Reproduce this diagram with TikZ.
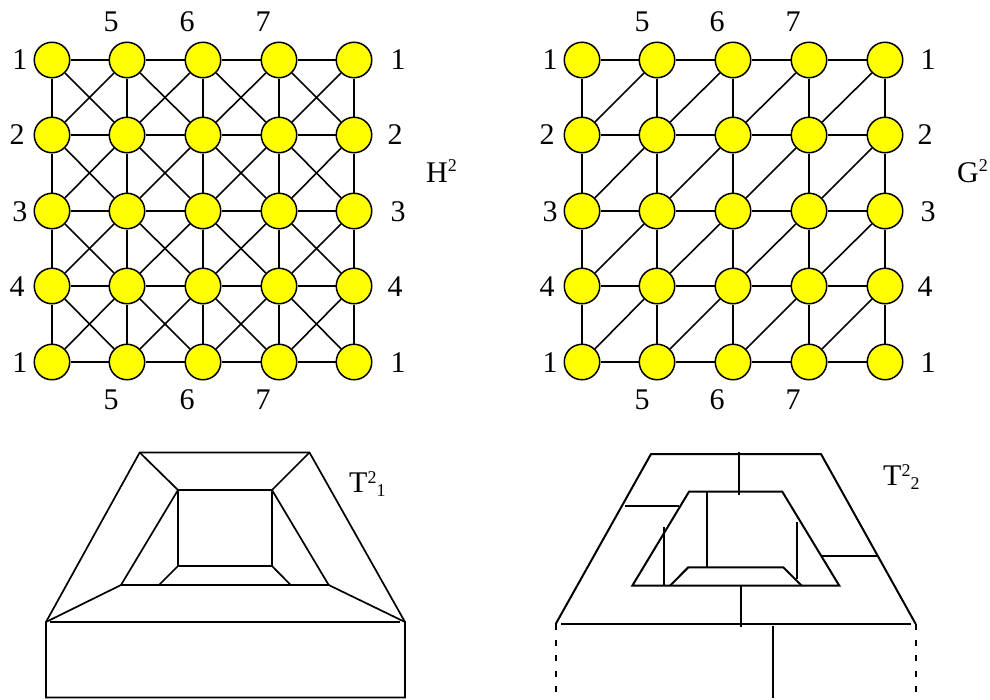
\documentclass[tikz,border=0pt]{standalone}
\usepackage{fontspec}
\setmainfont{Liberation Serif}
\usepackage{xcolor}
\usetikzlibrary{arrows.meta}
\definecolor{vertexyellow}{RGB}{255,255,0}
\newcommand{\smalltext}[1]{{\fontsize{18}{20}\selectfont #1}}
\tikzset{
    vertex/.style={circle, draw=black, line width=1.5pt, fill=vertexyellow, minimum size=35.5pt, inner sep=0pt},
    edge/.style={draw=black, line width=1.6pt},
    wire/.style={draw=black, line width=1.7pt},
    thickwire/.style={draw=black, line width=2pt},
    number/.style={anchor=base, inner sep=0pt, font=\fontsize{30}{32}\selectfont},
    title/.style={anchor=base west, inner sep=0pt, font=\fontsize{30}{32}\selectfont},
}
\begin{document}
\begin{tikzpicture}[x=1pt,y=-1pt]
        \useasboundingbox (0,0) rectangle (990,699);
        % the two grids
        \foreach \c/\x in {1/52,2/127,3/203,4/279,5/354} {
            \foreach \r/\y in {a/60,b/135,c/211,d/286,e/362} {
                \node [vertex] (h\r\c) at (\x,\y) {};
            }
        }
        \foreach \c/\x in {1/582,2/657,3/733,4/809,5/885} {
            \foreach \r/\y in {a/60,b/135,c/211,d/286,e/362} {
                \node [vertex] (g\r\c) at (\x,\y) {};
            }
        }
        \foreach \n in {h,g} {
            \foreach \r in {a,b,c,d,e} {
                \foreach \c/\d in {1/2,2/3,3/4,4/5} {
                    \draw [edge] (\n\r\c) -- (\n\r\d);
                }
            }
            \foreach \c in {1,2,3,4,5} {
                \foreach \r/\s in {a/b,b/c,c/d,d/e} {
                    \draw [edge] (\n\r\c) -- (\n\s\c);
                }
            }
            \foreach \r/\s in {a/b,b/c,c/d,d/e} {
                \foreach \c/\d in {1/2,2/3,3/4,4/5} {
                    \draw [edge] (\n\s\c) -- (\n\r\d);
                }
            }
        }
        % second diagonals only in the left grid
        \foreach \r/\s in {a/b,b/c,c/d,d/e} {
            \foreach \c/\d in {1/2,2/3,3/4,4/5} {
                \draw [edge] (h\r\c) -- (h\s\d);
            }
        }
        % numbers round the grids
        \foreach \x/\y/\t [count=\i] in {20/69/1,17/144/2,20/221/3,17/296/4,20/372/1,
                398/69/1,395/144/2,398/221/3,395/296/4,398/372/1,
                111/31/5,187/31/6,263/31/7,111/409/5,187/409/6,263/409/7} {
            \node [number] (hn\i) at (\x,\y) {\t};
        }
        \foreach \x/\y/\t [count=\i] in {550/69/1,547/144/2,550/221/3,547/296/4,550/372/1,
                928/69/1,925/144/2,928/221/3,925/296/4,928/372/1,
                642/31/5,717/31/6,793/31/7,642/409/5,717/409/6,793/409/7} {
            \node [number] (gn\i) at (\x,\y) {\t};
        }
        \node [title] (hname) at (426,182) {H\raisebox{11pt}{\smalltext{2}}};
        \node [title] (gname) at (957,182) {G\raisebox{11pt}{\smalltext{2}}};
        \node [title] (tone) at (349,492) {T\raisebox{9pt}{\smalltext{2}}\raisebox{-4pt}{\smalltext{1}}};
        \node [title] (ttwo) at (883,485) {T\raisebox{9pt}{\smalltext{2}}\raisebox{-4pt}{\smalltext{2}}};
        % lower left
        \coordinate (ol) at (139.7,452.5);
        \coordinate (or) at (309.5,452.5);
        \coordinate (bl) at (46,622);
        \coordinate (br) at (405,622);
        \coordinate (il) at (178,490);
        \coordinate (ir) at (272,490);
        \coordinate (jl) at (178,566);
        \coordinate (jr) at (272,566);
        \coordinate (kl) at (121,585);
        \coordinate (kr) at (328.7,585);
        \coordinate (ml) at (159,585);
        \coordinate (mr) at (290.7,585);
        \coordinate (sl) at (50,622.3);
        \coordinate (sr) at (400,622.3);
        \coordinate (fl) at (46,697.5);
        \coordinate (fr) at (405,697.5);
        \draw [wire] (bl) -- (ol) -- (or) -- (br) -- (fr) -- (fl) -- cycle;
        \draw [wire] (sl) -- (sr);
        \draw [wire] (il) -- (ir) -- (jr) -- (jl) -- cycle;
        \draw [wire] (ol) -- (il) -- (kl) -- (kr) -- (ir) -- (or);
        \draw [wire] (bl) -- (kl);
        \draw [wire] (br) -- (kr);
        \draw [wire] (ml) -- (jl);
        \draw [wire] (mr) -- (jr);
        % lower right
        \coordinate (tl) at (651,454);
        \coordinate (tr) at (821,454);
        \coordinate (ul) at (555.7,624);
        \coordinate (ur) at (915.7,624);
        \coordinate (ua) at (561,624);
        \coordinate (ub) at (910.7,624);
        \coordinate (vl) at (689,491.7);
        \coordinate (vr) at (782.3,491.7);
        \coordinate (wl) at (632.3,585.7);
        \coordinate (wr) at (839.3,585.7);
        \coordinate (xl) at (670,585.7);
        \coordinate (xr) at (801.7,585.7);
        \coordinate (yl) at (688.3,567.3);
        \coordinate (yr) at (783.3,567.3);
        \coordinate (dl) at (555.7,693);
        \coordinate (dr) at (915.7,693);
        \draw [thickwire] (ul) -- (tl) -- (tr) -- (ur);
        \draw [thickwire] (ua) -- (ub);
        \draw [thickwire] (vl) -- (vr) -- (wr) -- (wl) -- cycle;
        \draw [thickwire] (xl) -- (yl) -- (yr) -- (xr);
        \coordinate (c1) at (739,452.3);
        \coordinate (c2) at (739,494.5);
        \coordinate (c3) at (707.3,491.7);
        \coordinate (c4) at (707.3,567.3);
        \coordinate (c5) at (664,527.3);
        \coordinate (c6) at (664,585.7);
        \coordinate (c7) at (797,522);
        \coordinate (c8) at (797,578.7);
        \coordinate (c9) at (625,505.7);
        \coordinate (c10) at (679.3,505.7);
        \coordinate (c11) at (822.3,556);
        \coordinate (c12) at (876.7,556);
        \coordinate (c13) at (741,585.7);
        \coordinate (c14) at (741,627.3);
        \coordinate (c15) at (773.3,626);
        \coordinate (c16) at (773.3,698);
        \foreach \a/\b in {c1/c2,c3/c4,c5/c6,c7/c8,c9/c10,c11/c12,c13/c14,c15/c16} {
            \draw [thickwire] (\a) -- (\b);
        }
        \draw [thickwire, dash pattern=on 6pt off 9.5pt] (ul) -- (dl);
        \draw [thickwire, dash pattern=on 6pt off 9.5pt] (ur) -- (dr);
\end{tikzpicture}
\end{document}
